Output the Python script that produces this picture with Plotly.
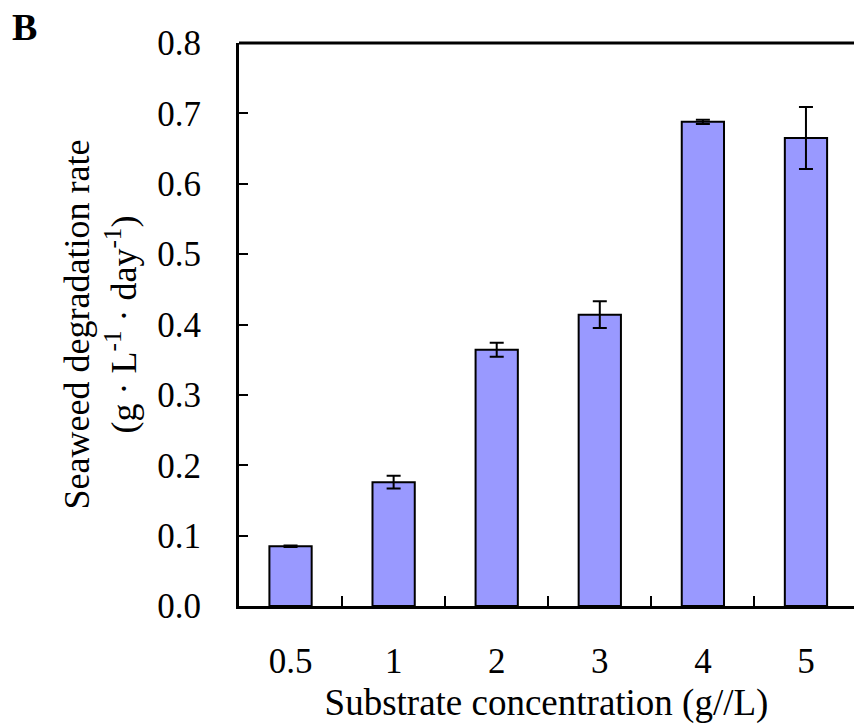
import plotly.graph_objects as go

categories = ["0.5", "1", "2", "3", "4", "5"]
rates = [0.085, 0.176, 0.364, 0.414, 0.688, 0.665]
errors = [0.001, 0.009, 0.010, 0.019, 0.003, 0.044]
y_ticks = [0.0, 0.1, 0.2, 0.3, 0.4, 0.5, 0.6, 0.7, 0.8]

FONT = "Liberation Serif"

fig = go.Figure()
fig.add_trace(go.Bar(
    x=categories, y=rates,
    marker=dict(color="#9999FF", line=dict(color="black", width=2)),
    error_y=dict(type="data", array=errors, visible=True,
                 color="black", thickness=2, width=7),
    width=0.41,
))

fig.update_layout(
    width=854, height=725,
    margin=dict(l=239, r=0, t=43, b=119),
    paper_bgcolor="white", plot_bgcolor="white",
    font=dict(family=FONT, size=35, color="black"),
    showlegend=False,
    xaxis=dict(
        type="category", range=[-0.5, 5.466],
        showline=True, linecolor="black", linewidth=3, mirror=False,
        ticks="inside", tickson="boundaries", ticklen=10, tickwidth=1.5, tickcolor="black",
        ticklabelstandoff=22,
        tickfont=dict(family=FONT, size=35),
        showgrid=False, zeroline=False,
        title=dict(text="Substrate concentration (g//L)", font=dict(family=FONT, size=37), standoff=10),
    ),
    yaxis=dict(
        range=[0, 0.8], tickvals=y_ticks, tickformat=".1f",
        showline=True, linecolor="black", linewidth=3, mirror=False,
        ticks="inside", ticklen=9, tickwidth=1.5, tickcolor="black",
        ticklabelstandoff=28,
        tickfont=dict(family=FONT, size=35),
        showgrid=False, zeroline=False,
        title=dict(text="Seaweed degradation rate<br>(g · L<sup>-1</sup> · day<sup>-1</sup>)",
                   font=dict(family=FONT, size=36), standoff=10),
    ),
    shapes=[dict(type="line", xref="paper", yref="paper", x0=0, x1=1, y0=1, y1=1,
                 line=dict(color="black", width=3))],
    annotations=[dict(text="<b>B</b>", xref="paper", yref="paper",
                      x=-0.372, y=1.028, xanchor="left", yanchor="middle",
                      showarrow=False, font=dict(family=FONT, size=38))],
)

fig.write_html("out.html")
